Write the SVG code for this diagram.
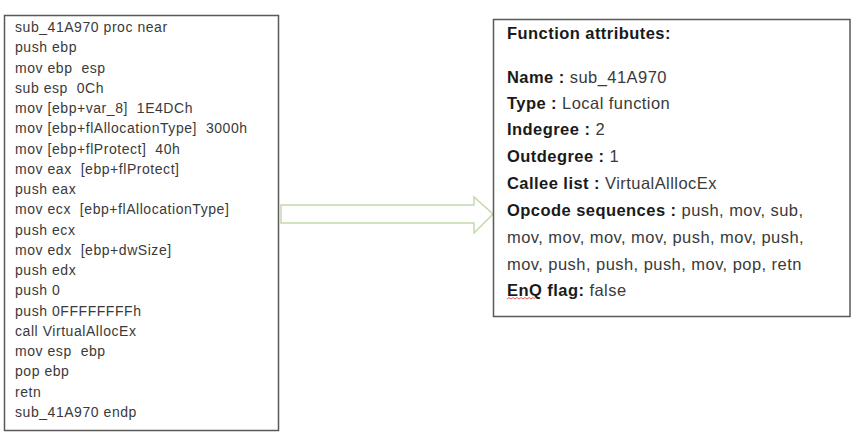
<svg xmlns="http://www.w3.org/2000/svg" width="852" height="447" viewBox="0 0 852 447">
<style>
.box{fill:#fff;stroke:#595959;stroke-width:1.5}
.code{font-family:"Liberation Sans",Arial,sans-serif;font-size:14px;letter-spacing:0.55px;fill:#3a3a3a;white-space:pre}
.attr{font-family:"Liberation Sans",Arial,sans-serif;font-size:16.5px;letter-spacing:0.45px;fill:#3a3a3a;white-space:pre}
.b{font-weight:bold;fill:#1a1a1a}
.arrow{fill:#fff;stroke:#c3d9ad;stroke-width:1.5;stroke-linejoin:miter}
</style>
<rect width="852" height="447" fill="#fff"/>
<g id="code-node">
<rect class="box" x="4.5" y="15.5" width="274" height="415"/>
<text class="code" x="15" y="32" xml:space="preserve"><tspan x="15" y="32">sub_41A970 proc near</tspan><tspan x="15" dy="20.26">push ebp</tspan><tspan x="15" dy="20.26">mov ebp  esp</tspan><tspan x="15" dy="20.26">sub esp  0Ch</tspan><tspan x="15" dy="20.26">mov [ebp+var_8]  1E4DCh</tspan><tspan x="15" dy="20.26">mov [ebp+flAllocationType]  3000h</tspan><tspan x="15" dy="20.26">mov [ebp+flProtect]  40h</tspan><tspan x="15" dy="20.26">mov eax  [ebp+flProtect]</tspan><tspan x="15" dy="20.26">push eax</tspan><tspan x="15" dy="20.26">mov ecx  [ebp+flAllocationType]</tspan><tspan x="15" dy="20.26">push ecx</tspan><tspan x="15" dy="20.26">mov edx  [ebp+dwSize]</tspan><tspan x="15" dy="20.26">push edx</tspan><tspan x="15" dy="20.26">push 0</tspan><tspan x="15" dy="20.26">push 0FFFFFFFFh</tspan><tspan x="15" dy="20.26">call VirtualAllocEx</tspan><tspan x="15" dy="20.26">mov esp  ebp</tspan><tspan x="15" dy="20.26">pop ebp</tspan><tspan x="15" dy="20.26">retn</tspan><tspan x="15" dy="20.26">sub_41A970 endp</tspan></text>
</g>
<g id="connectors">
<path class="arrow" d="M281,205 H474 V197 L493,214 L474,233 V223 H281 Z"/>
</g>
<g id="attributes-node">
<rect class="box" x="493.5" y="19.5" width="356.5" height="297"/>
<text class="attr b" x="507" y="38.5">Function attributes:</text>
<text class="attr" x="507" y="83"><tspan class="b">Name : </tspan>sub_41A970</text>
<text class="attr" x="507" y="108.5"><tspan class="b">Type : </tspan>Local function</text>
<text class="attr" x="507" y="135"><tspan class="b">Indegree : </tspan>2</text>
<text class="attr" x="507" y="162"><tspan class="b">Outdegree : </tspan>1</text>
<text class="attr" x="507" y="188.5"><tspan class="b">Callee list : </tspan>VirtualAlllocEx</text>
<text class="attr" x="507" y="215.5"><tspan class="b">Opcode sequences : </tspan>push, mov, sub,</text>
<text class="attr" x="507" y="243">mov, mov, mov, mov, push, mov, push,</text>
<text class="attr" x="507" y="269.5">mov, push, push, push, mov, pop, retn</text>
<text class="attr" x="507" y="296"><tspan class="b">EnQ flag: </tspan>false</text>
<path d="M507,299 l2,-1.5 l2,1.5 l2,-1.5 l2,1.5 l2,-1.5 l2,1.5 l2,-1.5 l2,1.5 l2,-1.5 l2,1.5 l2,-1.5 l2,1.5 l2,-1.5 l2,1.5" fill="none" stroke="#e03030" stroke-width="0.8"/>
</g>
</svg>
